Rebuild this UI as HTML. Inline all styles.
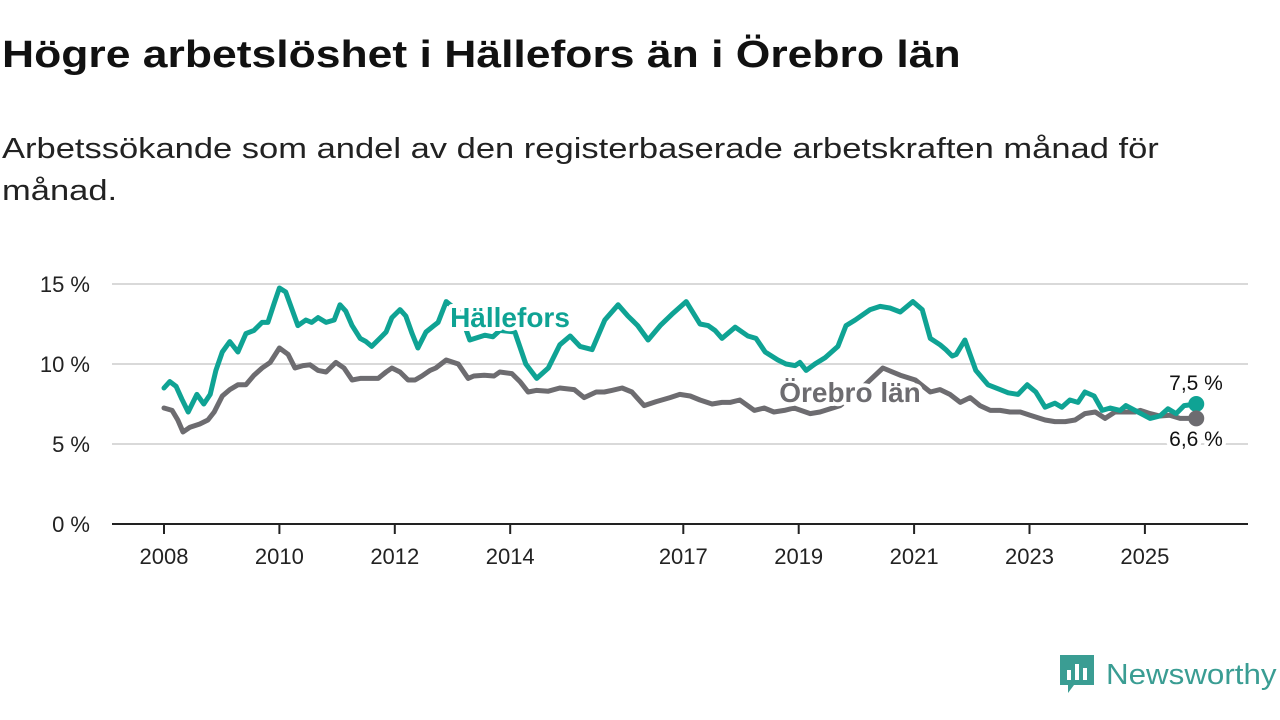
<!DOCTYPE html>
<html><head><meta charset="utf-8"><style>
body{margin:0;width:1280px;height:720px;background:#fff;font-family:"Liberation Sans",sans-serif;overflow:hidden;position:relative}
h1{position:absolute;left:2px;top:34px;margin:0;font-size:38px;font-weight:bold;color:#111;white-space:nowrap;transform:scaleX(1.17);transform-origin:0 0}
.sub{position:absolute;left:2px;top:128px;margin:0;font-size:29px;line-height:42px;color:#222;white-space:nowrap;transform:scaleX(1.19);transform-origin:0 0}
svg{position:absolute;left:0;top:0}
</style></head><body>
<h1>Högre arbetslöshet i Hällefors än i Örebro län</h1>
<p class="sub">Arbetssökande som andel av den registerbaserade arbetskraften månad för<br>månad.</p>
<svg id="chart" width="1280" height="720"></svg>
<div style="position:absolute;left:1060px;top:655px;display:flex;align-items:center">
<svg width="34" height="40" style="position:static"><path d="M0 0H34V30H14L8 38V30H0Z" fill="#3a9d93"/><rect x="7" y="15" width="4" height="10" fill="#fff"/><rect x="15" y="9" width="4" height="16" fill="#fff"/><rect x="23" y="13" width="4" height="12" fill="#fff"/></svg>
<span style="font-size:29px;color:#3a9d93;margin-left:12px;transform:scaleX(1.08);transform-origin:0 0;display:inline-block">Newsworthy</span></div>
<script>
const hYears=[2008.00,2008.10,2008.21,2008.31,2008.42,2008.57,2008.69,2008.80,2008.90,2009.01,2009.14,2009.28,2009.42,2009.56,2009.70,2009.80,2009.91,2010.00,2010.11,2010.22,2010.32,2010.46,2010.56,2010.67,2010.81,2010.95,2011.05,2011.15,2011.26,2011.40,2011.50,2011.60,2011.74,2011.85,2011.95,2012.09,2012.19,2012.30,2012.40,2012.54,2012.68,2012.75,2012.89,2013.13,2013.30,2013.56,2013.70,2013.82,2014.08,2014.27,2014.46,2014.66,2014.86,2015.04,2015.21,2015.42,2015.64,2015.87,2016.04,2016.21,2016.39,2016.60,2016.80,2017.05,2017.29,2017.43,2017.55,2017.67,2017.90,2018.12,2018.26,2018.42,2018.64,2018.78,2018.94,2019.02,2019.13,2019.28,2019.46,2019.68,2019.82,2019.98,2020.24,2020.41,2020.58,2020.76,2020.98,2021.14,2021.28,2021.45,2021.55,2021.66,2021.73,2021.88,2022.07,2022.28,2022.49,2022.63,2022.80,2022.96,2023.11,2023.27,2023.44,2023.56,2023.70,2023.84,2023.96,2024.12,2024.26,2024.40,2024.57,2024.67,2024.88,2025.09,2025.26,2025.40,2025.54,2025.68,2025.89];
const hVals=[8.5,8.9,8.6,7.8,7.0,8.1,7.5,8.1,9.6,10.75,11.4,10.75,11.9,12.1,12.6,12.6,13.8,14.75,14.5,13.4,12.4,12.75,12.6,12.9,12.6,12.75,13.7,13.3,12.4,11.6,11.4,11.1,11.6,12.0,12.9,13.4,13.0,11.9,11.0,12.0,12.4,12.6,13.9,13.2,11.5,11.8,11.7,12.1,12.0,10.0,9.1,9.75,11.2,11.75,11.1,10.9,12.75,13.7,13.0,12.4,11.5,12.4,13.1,13.9,12.5,12.4,12.1,11.6,12.3,11.75,11.6,10.75,10.25,10.0,9.9,10.1,9.6,10.0,10.4,11.1,12.4,12.75,13.4,13.6,13.5,13.25,13.9,13.4,11.6,11.2,10.9,10.5,10.6,11.5,9.6,8.7,8.4,8.2,8.1,8.7,8.25,7.3,7.55,7.3,7.75,7.6,8.25,8.0,7.1,7.25,7.1,7.4,7.0,6.6,6.75,7.2,6.9,7.4,7.5];
const oYears=[2008.00,2008.14,2008.24,2008.33,2008.45,2008.62,2008.76,2008.87,2009.01,2009.14,2009.28,2009.42,2009.56,2009.70,2009.84,2010.00,2010.15,2010.27,2010.41,2010.53,2010.67,2010.81,2010.98,2011.12,2011.26,2011.40,2011.54,2011.71,2011.85,2011.95,2012.09,2012.23,2012.35,2012.47,2012.61,2012.71,2012.89,2013.10,2013.27,2013.37,2013.55,2013.72,2013.82,2014.03,2014.17,2014.31,2014.45,2014.66,2014.86,2015.11,2015.28,2015.49,2015.63,2015.76,2015.94,2016.11,2016.32,2016.53,2016.77,2016.94,2017.12,2017.29,2017.50,2017.67,2017.81,2017.98,2018.23,2018.40,2018.57,2018.75,2018.92,2019.20,2019.37,2019.72,2020.06,2020.46,2020.76,2021.02,2021.28,2021.45,2021.62,2021.80,2021.97,2022.14,2022.32,2022.49,2022.66,2022.84,2023.01,2023.27,2023.44,2023.62,2023.79,2023.96,2024.14,2024.31,2024.48,2024.66,2024.83,2024.92,2025.09,2025.26,2025.43,2025.61,2025.89];
const oVals=[7.25,7.1,6.5,5.75,6.05,6.25,6.5,7.0,8.0,8.4,8.7,8.7,9.3,9.75,10.1,11.0,10.6,9.75,9.9,9.95,9.6,9.5,10.1,9.75,9.0,9.1,9.1,9.1,9.5,9.75,9.5,9.0,9.0,9.25,9.6,9.75,10.25,10.0,9.1,9.25,9.3,9.25,9.5,9.4,8.9,8.25,8.35,8.3,8.5,8.4,7.9,8.25,8.25,8.35,8.5,8.25,7.4,7.65,7.9,8.1,8.0,7.75,7.5,7.6,7.6,7.75,7.1,7.25,7.0,7.1,7.25,6.9,7.0,7.4,8.4,9.75,9.3,9.0,8.25,8.4,8.1,7.6,7.9,7.4,7.1,7.1,7.0,7.0,6.8,6.5,6.4,6.4,6.5,6.9,7.0,6.6,7.0,7.0,7.0,7.1,6.9,6.75,6.8,6.6,6.6];
const yTicks=[0,5,10,15];
const xTicks=[2008,2010,2012,2014,2017,2019,2021,2023,2025];
const NS="http://www.w3.org/2000/svg";
const svg=document.getElementById('chart');
const X=y=>164+(y-2008)*57.7;
const Y=v=>524-v*16;
function mk(t,a,p){const e=document.createElementNS(NS,t);for(const k in a)e.setAttribute(k,a[k]);(p||svg).appendChild(e);return e;}
yTicks.forEach(v=>{
  if(v>0){const g=mk('line',{x1:112,x2:1248,y1:Y(v),y2:Y(v),stroke:'#d9d9d9','stroke-width':2});
  
  }
  const t=mk('text',{x:90,y:Y(v)+8,'text-anchor':'end','font-size':22,fill:'#222','font-family':'Liberation Sans'});
  t.textContent=v+' %';
  
  
});
const ax=mk('line',{x1:112,x2:1248,y1:524,y2:524,stroke:'#222','stroke-width':2});


xTicks.forEach(y=>{
  const tk=mk('line',{x1:X(y),x2:X(y),y1:524,y2:534,stroke:'#222','stroke-width':2});
  
  
  const t=mk('text',{x:X(y),y:564,'text-anchor':'middle','font-size':22,fill:'#222','font-family':'Liberation Sans'});
  t.textContent=y;
  
  
});
function line(ys,vs,col,name){
  const d=ys.map((y,i)=>(i?'L':'M')+X(y).toFixed(1)+' '+Y(vs[i]).toFixed(1)).join(' ');
  const p=mk('path',{d:d,fill:'none',stroke:col,'stroke-width':5,'stroke-linejoin':'round','stroke-linecap':'round'});
  
  
}
line(oYears,oVals,'#6d6c70','orebro-lan-line');
line(hYears,hVals,'#0fa394','hallefors-line');
function lab(x,y,txt,col,name,size,bold,halo){
  const t=mk('text',{x:x,y:y,'font-size':size,'font-weight':bold?'bold':'normal',fill:col,'font-family':'Liberation Sans','text-anchor':'middle'});
  if(halo){t.setAttribute('stroke','#fff');t.setAttribute('stroke-width',8);t.setAttribute('paint-order','stroke');t.setAttribute('stroke-linejoin','round');}
  t.textContent=txt;
  
  
}
lab(510,327,'Hällefors','#0fa394','hallefors-label',28,true,true);
lab(850,402,'Örebro län','#6d6c70','orebro-lan-label',28,true,true);
const e1=mk('circle',{cx:X(hYears[hYears.length-1]),cy:Y(hVals[hVals.length-1]),r:8,fill:'#0fa394'});


const e2=mk('circle',{cx:X(oYears[oYears.length-1]),cy:Y(oVals[oVals.length-1]),r:8,fill:'#6d6c70'});


lab(1196,390,'7,5 %','#111','hallefors-end-label',21,false,true);
lab(1196,446,'6,6 %','#111','orebro-end-label',21,false,true);
</script>
</body></html>
